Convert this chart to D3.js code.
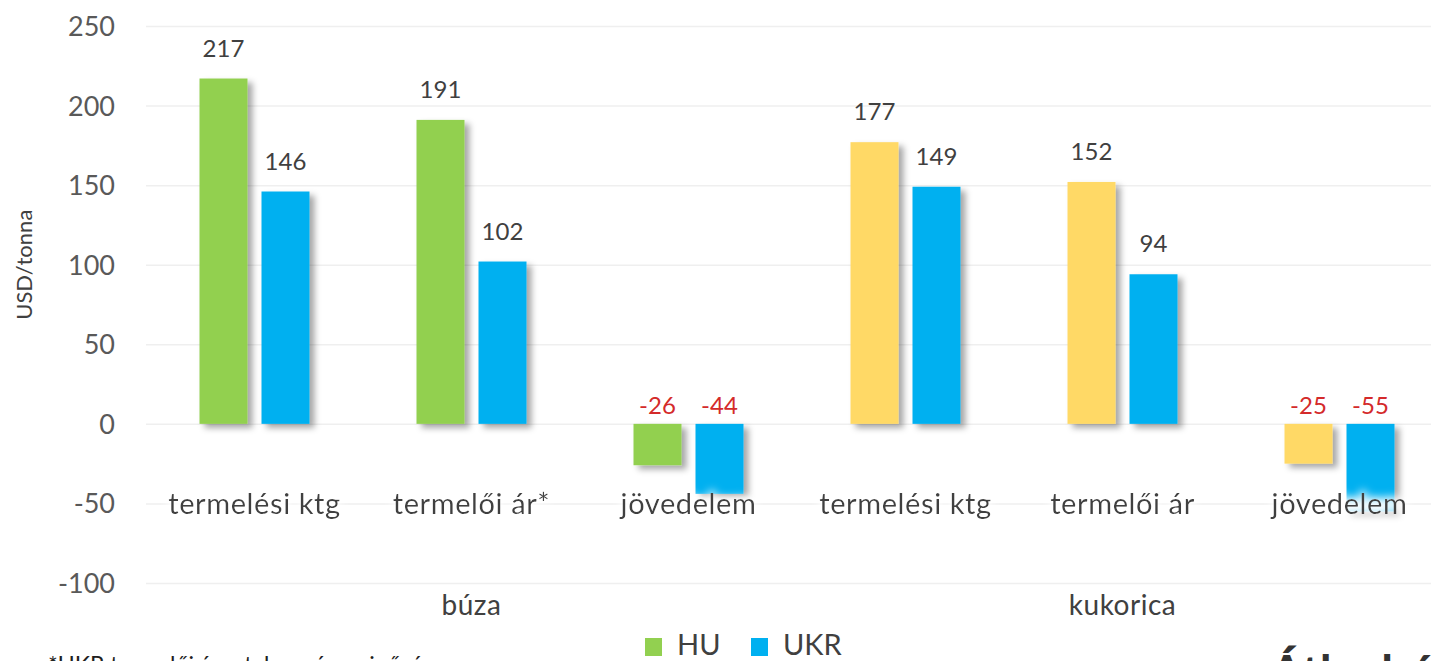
<!DOCTYPE html>
<html>
<head>
<meta charset="utf-8">
<script src="https://cdn.jsdelivr.net/npm/d3@7"></script>
<style>
  body { margin: 0; background: #fff; }
  svg { font-family: Lato, 'Open Sans', sans-serif; }
</style>
</head>
<body>
<div id="chart"></div>
<script>
// adatok - data
var categories = ['termelési ktg', 'termelői ár*', 'jövedelem', 'termelési ktg', 'termelői ár', 'jövedelem'];
var crops = ['búza', 'búza', 'búza', 'kukorica', 'kukorica', 'kukorica'];
var groups = ['búza', 'kukorica'];
var series = ['HU', 'UKR'];
var huValues = [217, 191, -26, 177, 152, -25];
var ukrValues = [146, 102, -44, 149, 94, -55];
var yTicks = [-100, -50, 0, 50, 100, 150, 200, 250];

var W = 1431, H = 661;
var colHU = {'búza': '#92d050', 'kukorica': '#ffd966'};
var colUKR = '#00b0f0';

var svg = d3.select('#chart')
  .append('svg')
  .attr('width', W)
  .attr('height', H);

var defs = svg.append('defs');
var f = defs.append('filter').attr('id', 'shadow')
  .attr('x', '-20%').attr('y', '-20%').attr('width', '160%').attr('height', '160%');
f.append('feDropShadow')
  .attr('dx', 5).attr('dy', 4)
  .attr('stdDeviation', 3)
  .attr('flood-color', '#000')
  .attr('flood-opacity', 0.35);

// white soft glow behind category labels
var g2 = defs.append('filter').attr('id', 'glow')
  .attr('x', '-10%').attr('y', '-40%').attr('width', '120%').attr('height', '180%');
g2.append('feMorphology').attr('in', 'SourceAlpha').attr('operator', 'dilate').attr('radius', 2).attr('result', 'd');
g2.append('feGaussianBlur').attr('in', 'd').attr('stdDeviation', 4).attr('result', 'b');
g2.append('feFlood').attr('flood-color', '#fff').attr('result', 'w');
g2.append('feComposite').attr('in', 'w').attr('in2', 'b').attr('operator', 'in').attr('result', 'wb');
var mg = g2.append('feMerge');
mg.append('feMergeNode').attr('in', 'wb');
mg.append('feMergeNode').attr('in', 'SourceGraphic');

var left = 146, right = 1448;
var y = d3.scaleLinear().domain([-100, 250]).range([583, 26]);

var idx = d3.range(categories.length);
var x0 = d3.scaleBand().domain(idx).range([left, right]);
var x1 = d3.scaleBand().domain(series).range([-55, 55]).paddingInner(14 / 62);

// gridlines + y axis
var yAxis = d3.axisLeft(y)
  .tickValues(yTicks)
  .tickFormat(function(d) { return String(d); })
  .tickSize(-(right - left))
  .tickPadding(31);
var ga = svg.append('g')
  .attr('transform', `translate(${left},0)`)
  .call(yAxis)
  .attr('font-family', null)
  .attr('font-size', null);
ga.select('.domain').remove();
ga.selectAll('.tick line').attr('stroke', '#efefef').attr('stroke-width', 1.5);
ga.selectAll('.tick text')
  .attr('fill', '#595959')
  .style('font-size', '27px')
  .attr('dy', '0.35em');

svg.append('text')
  .text('USD/tonna')
  .attr('transform', `translate(32,${y(100)}) rotate(-90)`)
  .attr('text-anchor', 'middle')
  .attr('fill', '#404040')
  .style('font-size', '22px');

// rows: one entry per bar
var bars = [];
idx.forEach(function(i) {
  bars.push({i: i, s: 'HU', v: huValues[i], c: colHU[crops[i]]});
  bars.push({i: i, s: 'UKR', v: ukrValues[i], c: colUKR});
});

svg.append('g')
  .selectAll('rect')
  .data(bars)
  .enter()
  .append('rect')
  .attr('x', function(d) { return x0(d.i) + x0.bandwidth() / 2 + x1(d.s); })
  .attr('width', x1.bandwidth())
  .attr('y', function(d) { return y(Math.max(d.v, 0)); })
  .attr('height', function(d) { return Math.abs(y(d.v) - y(0)); })
  .attr('fill', function(d) { return d.c; })
  .attr('filter', 'url(#shadow)');

// value labels
svg.append('g')
  .selectAll('text')
  .data(bars)
  .enter()
  .append('text')
  .text(function(d) { return d.v; })
  .attr('x', function(d) { return x0(d.i) + x0.bandwidth() / 2 + x1(d.s) + x1.bandwidth() / 2; })
  .attr('y', function(d) { return y(Math.max(d.v, 0)) - (d.v < 0 ? 10 : 22); })
  .attr('text-anchor', 'middle')
  .attr('fill', function(d) { return d.v < 0 ? '#d42a2a' : '#404040'; })
  .style('font-size', '24px');

// category labels
svg.append('g')
  .selectAll('text')
  .data(idx)
  .enter()
  .append('text')
  .text(function(i) { return categories[i]; })
  .attr('x', function(i) { return x0(i) + x0.bandwidth() / 2; })
  .attr('y', y(-50) + 11)
  .attr('text-anchor', 'middle')
  .attr('fill', '#404040')
  .attr('filter', 'url(#glow)')
  .style('letter-spacing', '0.6px')
  .style('font-size', '29px');

// group labels (búza / kukorica)
svg.append('g')
  .selectAll('text')
  .data(groups)
  .enter()
  .append('text')
  .text(function(g) { return g; })
  .attr('x', function(g) {
    var ii = idx.filter(function(i) { return crops[i] === g; });
    return (x0(ii[0]) + x0(ii[ii.length - 1]) + x0.bandwidth()) / 2;
  })
  .attr('y', y(-100) + 32)
  .attr('text-anchor', 'middle')
  .attr('fill', '#404040')
  .style('letter-spacing', '0.5px')
  .style('font-size', '28px');

// legend
var legend = [{name: 'HU', c: colHU['búza'], x: 645}, {name: 'UKR', c: colUKR, x: 751}];
var lg = svg.append('g');
lg.selectAll('rect')
  .data(legend)
  .enter()
  .append('rect')
  .attr('x', function(d) { return d.x; })
  .attr('y', 638)
  .attr('width', 17)
  .attr('height', 18)
  .attr('fill', function(d) { return d.c; });
lg.selectAll('text')
  .data(legend)
  .enter()
  .append('text')
  .text(function(d) { return d.name; })
  .attr('x', function(d) { return d.x + 32; })
  .attr('y', 655)
  .attr('fill', '#404040')
  .style('font-size', '29px');

// footnote + cut off title at the bottom
svg.append('text')
  .text('*UKR termelői ár – takarmányminőség')
  .attr('x', 48)
  .attr('y', 673)
  .attr('fill', '#202020')
  .style('font-size', '23px');

svg.append('text')
  .text('Átlagból')
  .attr('x', 1270)
  .attr('y', 690)
  .attr('fill', '#333')
  .style('font-weight', 'bold')
  .style('font-size', '48px');
</script>
</body>
</html>
